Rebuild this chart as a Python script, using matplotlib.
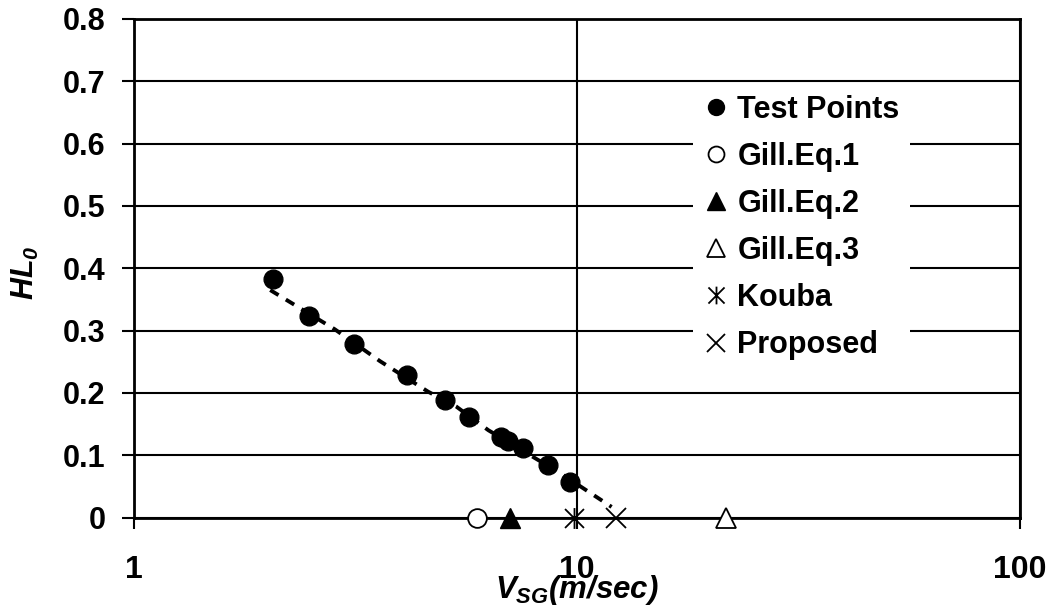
import numpy as np
import matplotlib
matplotlib.use("Agg")
import matplotlib.pyplot as plt
from matplotlib.path import Path

plt.rcParams['font.family'] = ['Liberation Sans', 'DejaVu Sans']
plt.rcParams['font.weight'] = 'bold'
plt.rcParams['mathtext.fontset'] = 'custom'
plt.rcParams['mathtext.it'] = 'Liberation Sans:italic:bold'
plt.rcParams['mathtext.rm'] = 'Liberation Sans:italic:bold'
plt.rcParams['mathtext.bf'] = 'Liberation Sans:italic:bold'

# Puntos de ensayo (velocidad superficial del gas vs. holdup)
vsg_test = [2.06, 2.48, 3.14, 4.13, 5.04, 5.69, 6.73, 7.00, 7.54, 8.59, 9.64]
hl_test = [0.383, 0.323, 0.278, 0.228, 0.188, 0.162, 0.129, 0.122, 0.112, 0.085, 0.057]

# Linea de tendencia de los ensayos
vsg_fit = [2.03, 2.84, 3.59, 4.61, 5.34, 6.31, 9.22, 11.97]
hl_fit = [0.365, 0.302, 0.251, 0.202, 0.178, 0.140, 0.070, 0.017]

# Velocidad de carga (HL = 0) segun cada correlacion
vsg_gill1 = [5.94]
vsg_gill2 = [7.06]
vsg_gill3 = [21.7]
vsg_kouba = [9.86]
vsg_proposed = [12.25]

# Marcador tipo asterisco (X con barra vertical)
star6 = Path([(-1, -1), (1, 1), (-1, 1), (1, -1), (0, -1.1), (0, 1.1)],
             [Path.MOVETO, Path.LINETO, Path.MOVETO, Path.LINETO, Path.MOVETO, Path.LINETO])

fig = plt.figure(figsize=(10.57, 6.07), dpi=100)
ax = fig.add_axes([134/1057, 1 - 517.5/607, 886/1057, 498.5/607])

ax.plot(vsg_fit, hl_fit, color='black', lw=2.8, ls=(0, (2.5, 2.2)), zorder=3)
ax.plot(vsg_test, hl_test, 'o', color='black', ms=13.5, label='Test Points', zorder=4)

mk = dict(clip_on=False, zorder=5, ls='none')
ax.plot(vsg_gill1, [0], 'o', mfc='white', mec='black', mew=1.3, ms=13.5, label='Gill.Eq.1', **mk)
ax.plot(vsg_gill2, [0], '^', color='black', ms=15, label='Gill.Eq.2', **mk)
ax.plot(vsg_gill3, [0], '^', mfc='white', mec='black', mew=1.3, ms=15, label='Gill.Eq.3', **mk)
ax.plot(vsg_kouba, [0], marker=star6, color='black', mew=1.3, ms=15, label='Kouba', **mk)
ax.plot(vsg_proposed, [0], 'x', color='black', mew=1.3, ms=15, label='Proposed', **mk)

ax.set_xscale('log')
ax.set_xlim(1, 100)
ax.set_ylim(0, 0.8)
ax.set_yticks(np.arange(0, 0.81, 0.1))
ax.set_yticklabels(['0', '0.1', '0.2', '0.3', '0.4', '0.5', '0.6', '0.7', '0.8'])
ax.set_xticks([1, 10, 100])
ax.set_xticklabels(['1', '10', '100'])
ax.xaxis.set_minor_locator(matplotlib.ticker.NullLocator())

ax.grid(True, axis='both', color='black', lw=1.5)
ax.set_axisbelow(True)
for s in ax.spines.values():
    s.set_linewidth(2)
    s.set_color('black')

ax.tick_params(axis='y', direction='out', length=8.5, width=1.5, pad=12, labelsize=22)
ax.tick_params(axis='x', direction='out', length=8, width=1.5, pad=19, labelsize=23)

ax.set_xlabel(r'$V_{SG}(m/sec)$', fontsize=22.5)
ax.xaxis.label.set_va('center')
ax.xaxis.set_label_coords(0.5, -0.145)
ax.set_ylabel(r'$HL_0$', fontsize=22)
ax.yaxis.label.set_va('center')
ax.yaxis.set_label_coords(-0.123, 0.49)

leg = ax.legend(loc='upper left', bbox_to_anchor=(0.631, 0.8696), borderaxespad=0,
                frameon=True, fancybox=False, facecolor='white', edgecolor='none', framealpha=1,
                prop={'weight': 'bold', 'size': 22}, handlelength=0.8, handletextpad=0.3,
                labelspacing=0.56, borderpad=0.35, numpoints=1, markerscale=0.85)
leg.set_zorder(6)

fig.savefig('out.png', dpi=100)
